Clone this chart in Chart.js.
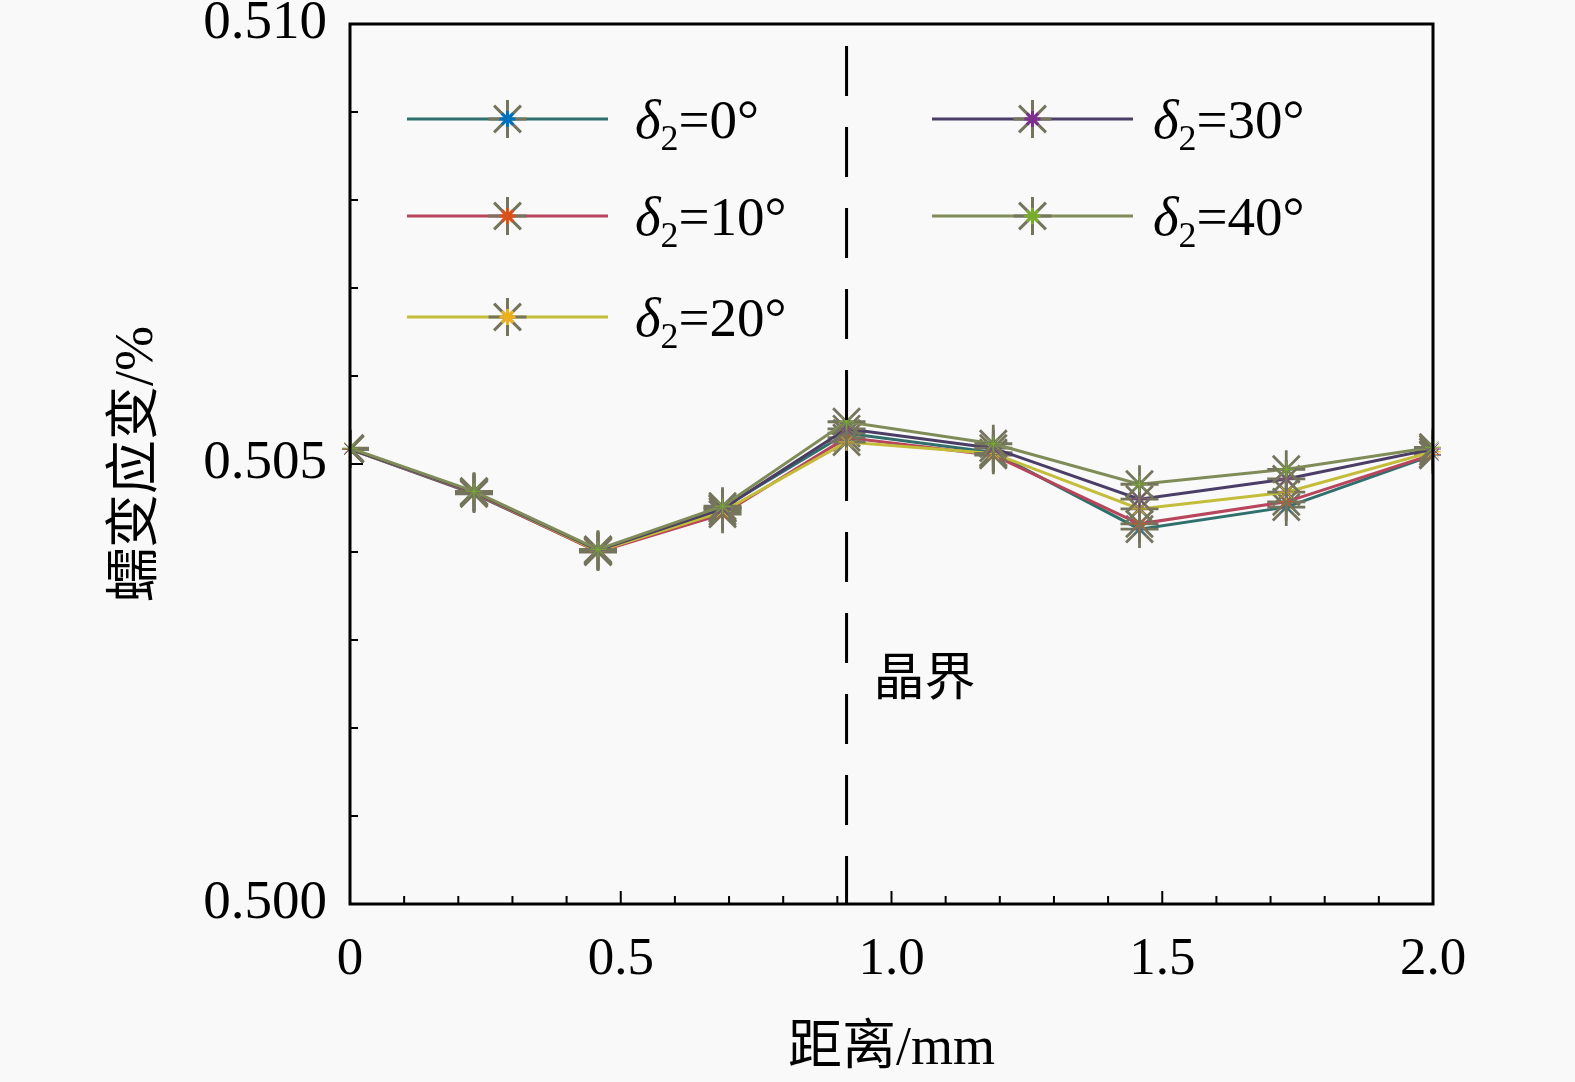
<!DOCTYPE html>
<html>
<head>
<meta charset="utf-8">
<script src="https://cdn.jsdelivr.net/npm/chart.js@4.4.1/dist/chart.umd.min.js"></script>
<style>
  html, body { margin: 0; padding: 0; background: #f9f9f9; }
  #wrap { width: 1575px; height: 1082px; }
</style>
</head>
<body>
<div id="wrap"><canvas id="creepChart"></canvas></div>
<script>
// distance from the left edge (mm)
const distances = [0, 0.229, 0.458, 0.688, 0.917, 1.188, 1.458, 1.729, 2.0];
const angleLabels = ["0°", "10°", "20°", "30°", "40°"];

// creep strain (%) for each misorientation angle
const strain0  = [0.50517, 0.50466, 0.50401, 0.50450, 0.50535, 0.50513, 0.50426, 0.50451, 0.50510];
const strain10 = [0.50517, 0.50467, 0.50400, 0.50443, 0.50530, 0.50510, 0.50432, 0.50457, 0.50511];
const strain20 = [0.50517, 0.50468, 0.50401, 0.50446, 0.50525, 0.50512, 0.50449, 0.50468, 0.50514];
const strain30 = [0.50517, 0.50468, 0.50402, 0.50449, 0.50540, 0.50518, 0.50460, 0.50483, 0.50517];
const strain40 = [0.50518, 0.50469, 0.50403, 0.50452, 0.50548, 0.50523, 0.50477, 0.50494, 0.50519];

const xTickValues = [0, 0.5, 1.0, 1.5, 2.0];
const yTickValues = [0.500, 0.505, 0.510];
const boundaryX = 0.917;   // grain boundary position

const allSeries = [strain0, strain10, strain20, strain30, strain40];
const lineColors = ["#2f6f6c", "#b8455c", "#c4bd3a", "#4a3d66", "#7f8c58"];
const markerColors = ["#0072BD", "#D95319", "#EDB120", "#7E2F8E", "#77AC30"];
const armColor = "#75755e";

const serif = '"Liberation Serif", "Times New Roman", serif';
const cjk = '"Liberation Serif", "Noto Sans CJK SC", serif';

function star(ctx, x, y, r, w) {
  Chart.helpers.drawPoint(ctx, { pointStyle: "star", radius: r, rotation: 0, borderWidth: w }, x, y);
}

const framePlugin = {
  id: "frame",
  afterDatasetDraw(chart, args) {
    // coloured centre on top of each grey asterisk
    const ctx = chart.ctx;
    ctx.save();
    ctx.strokeStyle = markerColors[args.index];
    args.meta.data.forEach(pt => star(ctx, pt.x, pt.y, 8, 4.5));
    ctx.restore();
  },
  afterDraw(chart) {
    const ctx = chart.ctx;
    const { left, right, top, bottom } = chart.chartArea;
    const xs = chart.scales.x, ys = chart.scales.y;
    ctx.save();

    // inward ticks
    ctx.strokeStyle = "#000";
    ctx.lineWidth = 2;
    ctx.beginPath();
    for (let k = 0; k <= 20; k++) {
      const px = xs.getPixelForValue(k / 10);
      const len = k % 5 === 0 ? 13 : 8;
      ctx.moveTo(px, bottom);
      ctx.lineTo(px, bottom - len);
    }
    for (let k = 0; k <= 10; k++) {
      const py = ys.getPixelForValue(0.5 + k * 0.001);
      const len = k % 5 === 0 ? 13 : 8;
      ctx.moveTo(left, py);
      ctx.lineTo(left + len, py);
    }
    ctx.stroke();

    // box
    ctx.lineWidth = 3;
    ctx.strokeRect(left, top, right - left, bottom - top);

    // grain boundary
    const bx = xs.getPixelForValue(boundaryX);
    ctx.setLineDash([50, 31]);
    ctx.lineDashOffset = 59;
    ctx.lineWidth = 3;
    ctx.beginPath();
    ctx.moveTo(bx, top);
    ctx.lineTo(bx, bottom);
    ctx.stroke();
    ctx.setLineDash([]);

    ctx.fillStyle = "#000";
    ctx.font = "51px " + cjk;
    ctx.textBaseline = "middle";
    ctx.textAlign = "left";
    ctx.fillText("晶界", bx + 27, 682);

    // legend
    const rows = [119, 216, 317];
    const cols = [{ l0: 407, l1: 608, tx: 635 }, { l0: 932, l1: 1133, tx: 1153 }];
    angleLabels.forEach((lab, i) => {
      const c = cols[i < 3 ? 0 : 1];
      const y = rows[i < 3 ? i : i - 3];
      ctx.strokeStyle = lineColors[i];
      ctx.lineWidth = 3;
      ctx.beginPath();
      ctx.moveTo(c.l0, y);
      ctx.lineTo(c.l1, y);
      ctx.stroke();
      const mx = (c.l0 + c.l1) / 2;
      ctx.strokeStyle = armColor;
      star(ctx, mx, y, 19, 2.8);
      ctx.strokeStyle = markerColors[i];
      star(ctx, mx, y, 8, 4.5);

      ctx.fillStyle = "#000";
      ctx.textBaseline = "alphabetic";
      let x = c.tx;
      ctx.font = "italic 55px " + serif;
      ctx.fillText("δ", x, y + 19);
      x += ctx.measureText("δ").width;
      ctx.font = "36px " + serif;
      ctx.fillText("2", x, y + 31);
      x += ctx.measureText("2").width;
      ctx.font = "55px " + serif;
      ctx.fillText("=" + lab, x, y + 19);
    });
    ctx.restore();
  }
};

const ctx = document.getElementById("creepChart").getContext("2d");
const chart = new Chart(ctx, {
  type: "line",
  data: {
    datasets: allSeries.map((s, i) => ({
      label: "δ2=" + angleLabels[i],
      data: distances.map((d, j) => ({ x: d, y: s[j] })),
      borderColor: lineColors[i],
      borderWidth: 3,
      pointStyle: "star",
      pointRadius: 19,
      pointBorderWidth: 2.8,
      pointBorderColor: armColor,
      pointHoverRadius: 19,
      fill: false,
      tension: 0,
      order: allSeries.length - i
    }))
  },
  options: {
    responsive: true,
    maintainAspectRatio: false,
    animation: false,
    layout: { padding: { left: 0, right: 142, top: 24, bottom: 0 } },
    plugins: {
      legend: { display: false },
      tooltip: { enabled: false }
    },
    scales: {
      x: {
        type: "linear",
        min: 0,
        max: 2.0,
        afterFit(scale) {
          scale.height = 178;
          scale.paddingLeft = 0;
          scale.paddingRight = 0;
        },
        afterBuildTicks(scale) { scale.ticks = xTickValues.map(v => ({ value: v })); },
        grid: { display: false },
        border: { display: false },
        ticks: {
          padding: 16,
          color: "#000",
          font: { family: serif, size: 53 },
          callback: v => (v === 0 ? "0" : v.toFixed(1))
        },
        title: {
          display: true,
          text: "距离/mm",
          color: "#000",
          font: { family: cjk, size: 54 },
          padding: { top: 0, bottom: 0 }
        }
      },
      y: {
        min: 0.500,
        max: 0.510,
        afterFit(scale) {
          scale.width = 350;
          scale.paddingTop = 0;
          scale.paddingBottom = 0;
        },
        afterBuildTicks(scale) { scale.ticks = yTickValues.map(v => ({ value: v })); },
        grid: { display: false },
        border: { display: false },
        ticks: {
          padding: 15,
          color: "#000",
          font: { family: serif, size: 55 },
          callback: v => v.toFixed(3)
        },
        title: {
          display: true,
          text: "蠕变应变/%",
          color: "#000",
          font: { family: cjk, size: 54 },
          padding: { top: 105, bottom: 0 }
        }
      }
    }
  },
  plugins: [framePlugin]
});
</script>
</body>
</html>
